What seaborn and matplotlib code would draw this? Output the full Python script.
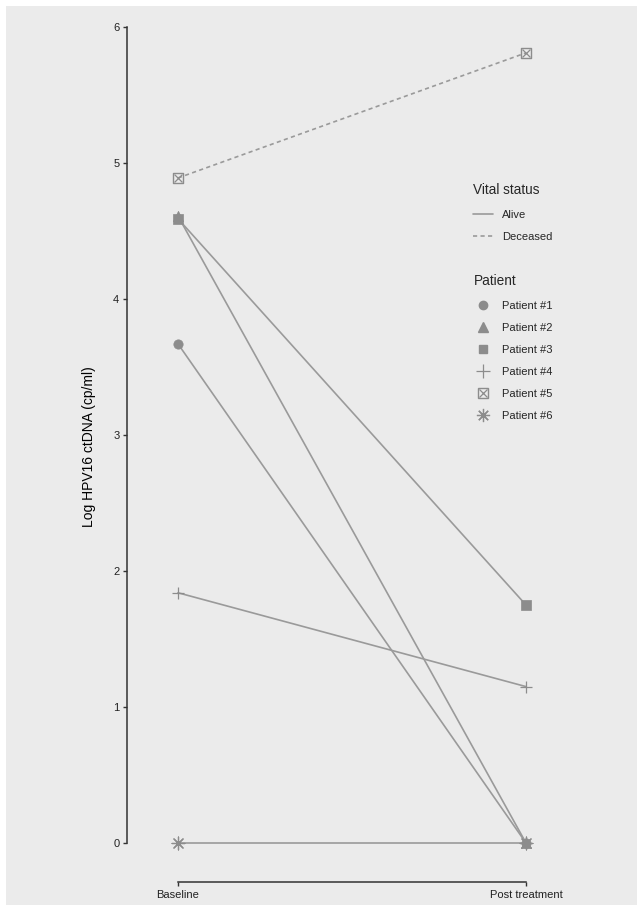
import matplotlib
matplotlib.use("Agg")
import matplotlib.pyplot as plt
from matplotlib.lines import Line2D
from matplotlib.patches import Rectangle
import seaborn as sns
import pandas as pd

# ---- data ----
timepoints = ["Baseline", "Post treatment"]
patients = ["Patient #1", "Patient #2", "Patient #3", "Patient #4", "Patient #5", "Patient #6"]
baseline = [3.67, 4.61, 4.59, 1.84, 4.89, 0.0]
post = [0.0, 0.0, 1.75, 1.15, 5.81, 0.0]
status = ["Alive", "Alive", "Alive", "Alive", "Deceased", "Alive"]
yticks = [0, 1, 2, 3, 4, 5, 6]

rows = []
for p, b, q, s in zip(patients, baseline, post, status):
    rows.append({"patient": p, "t": 0, "time": timepoints[0], "value": b, "status": s})
    rows.append({"patient": p, "t": 1, "time": timepoints[1], "value": q, "status": s})
df = pd.DataFrame(rows)

BG = "#ebebeb"
LINE = "#9a9a9a"
MARK = "#8c8c8c"
AX = "#333333"

sns.set_theme(style="ticks")
plt.rcParams["font.family"] = ["Liberation Sans", "DejaVu Sans"]
plt.rcParams["axes.facecolor"] = BG

W, H = 638, 906
fig = plt.figure(figsize=(W / 100, H / 100), dpi=100, facecolor="white")
fig.patches.append(Rectangle((6 / W, 1 / H), (637 - 6) / W, (900 - 1) / H,
                             transform=fig.transFigure, facecolor=BG,
                             edgecolor="none", zorder=-10))

ax_left, ax_right, ax_top, ax_bot = 127, 600, 12, 882
ax = fig.add_axes([ax_left / W, 1 - ax_bot / H, (ax_right - ax_left) / W, (ax_bot - ax_top) / H])
ax.set_facecolor(BG)

x0px, x1px = 178, 526
xs = x1px - x0px
ax.set_xlim(-(x0px - ax_left) / xs, (ax_right - x0px) / xs)
y0px, y6px = 843, 27
ys = (y0px - y6px) / 6
ax.set_ylim(-(ax_bot - y0px) / ys, 6 + (y6px - ax_top) / ys)

sns.lineplot(data=df, x="t", y="value", units="patient", style="status",
             estimator=None, color=LINE, linewidth=1.2,
             dashes={"Alive": "", "Deceased": (2.5, 2.0)},
             style_order=["Alive", "Deceased"], legend=False, ax=ax, zorder=2)

markers = {"Patient #1": "o", "Patient #2": "^", "Patient #3": "s",
           "Patient #4": "+", "Patient #5": "s", "Patient #6": (8, 2, 0)}
for p in patients:
    sub = df[df["patient"] == p]
    m = markers[p]
    if p == "Patient #5":
        sns.scatterplot(data=sub, x="t", y="value", marker="s", s=55,
                        facecolors="none", edgecolor=MARK, linewidth=1.0, ax=ax, zorder=3)
        sns.scatterplot(data=sub, x="t", y="value", marker="x", s=32,
                        color=MARK, linewidth=0.9, ax=ax, zorder=3)
    elif p in ("Patient #4", "Patient #6"):
        sns.scatterplot(data=sub, x="t", y="value", marker=m, s=85,
                        color=MARK, linewidth=0.9, ax=ax, zorder=3)
    elif p == "Patient #2":
        sns.scatterplot(data=sub, x="t", y="value", marker=m, s=55,
                        color=MARK, edgecolor=MARK, linewidth=0.5, ax=ax, zorder=3)
    else:
        sns.scatterplot(data=sub, x="t", y="value", marker=m, s=45,
                        color=MARK, edgecolor=MARK, linewidth=0.5, ax=ax, zorder=3)

ax.set_xticks([0, 1])
ax.set_xticklabels(timepoints)
ax.set_yticks(yticks)
ax.set_yticklabels([str(v) for v in yticks])
ax.set_xlabel("")
ax.set_ylabel("Log HPV16 ctDNA (cp/ml)", fontsize=10, color="black", labelpad=12)
ax.tick_params(axis="both", labelsize=8, colors=AX, length=3, width=1.0, pad=2.5)
for lab in ax.get_xticklabels() + ax.get_yticklabels():
    lab.set_color("#222222")
for side in ["top", "right"]:
    ax.spines[side].set_visible(False)
ax.spines["left"].set_bounds(0, 6)
ax.spines["bottom"].set_bounds(0, 1)
for side in ["left", "bottom"]:
    ax.spines[side].set_color(AX)
    ax.spines[side].set_linewidth(1.1)

# ---- legends ----
leg_kw = dict(loc="upper left", frameon=False, fontsize=8, title_fontsize=9.8,
              handlelength=1.8, handletextpad=0.8, labelspacing=1.07,
              alignment="left", borderaxespad=0, borderpad=0.4)

h_status = [Line2D([], [], color=LINE, lw=1.2, linestyle="-"),
            Line2D([], [], color=LINE, lw=1.2, linestyle=(0, (2.5, 2.0)))]
leg1 = fig.legend(h_status, ["Alive", "Deceased"], title="Vital status",
                  bbox_to_anchor=(469 / W, 1 - 178.5 / H), **leg_kw)
leg1._legend_box.sep = 9.5

h_pat = [
    Line2D([], [], color=MARK, marker="o", linestyle="none", markersize=6),
    Line2D([], [], color=MARK, marker="^", linestyle="none", markersize=7.5),
    Line2D([], [], color=MARK, marker="s", linestyle="none", markersize=6),
    Line2D([], [], color=MARK, marker="+", linestyle="none", markersize=9.5, markeredgewidth=0.9),
    (Line2D([], [], color=MARK, marker="s", linestyle="none", markersize=7,
            markerfacecolor="none", markeredgewidth=1.0),
     Line2D([], [], color=MARK, marker="x", linestyle="none", markersize=5.5, markeredgewidth=0.9)),
    Line2D([], [], color=MARK, marker=(8, 2, 0), linestyle="none", markersize=9.5, markeredgewidth=0.9),
]
leg2 = fig.legend(h_pat, patients, title="Patient",
                  bbox_to_anchor=(469 / W, 1 - 269.5 / H), **leg_kw)
leg2._legend_box.sep = 9.5

fig.savefig("out.png", dpi=100, facecolor="white")
